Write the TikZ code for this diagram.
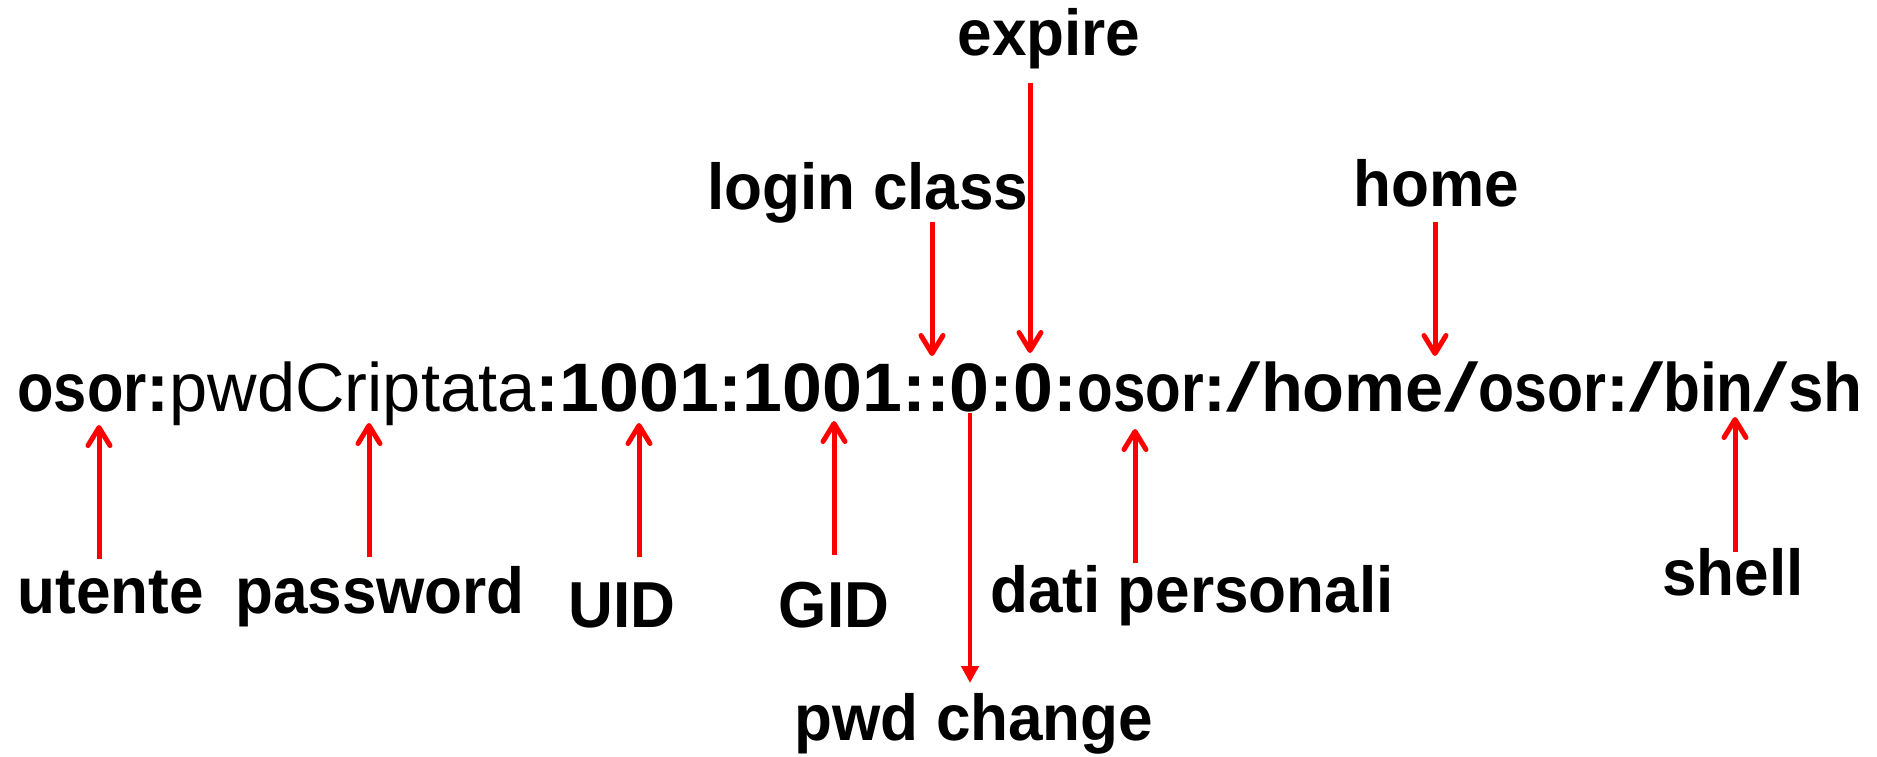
\documentclass[tikz,border=0pt]{standalone}
\usepackage{graphicx}
\usepackage{fontspec}
\setmainfont{Liberation Sans}
\newfontfamily\lblfont[FakeStretch=0.955]{Liberation Sans}
\usetikzlibrary{arrows.meta}
\definecolor{arrred}{RGB}{255,0,0}
\newcommand\nrw[2]{\scalebox{#1}[1]{\bfseries #2}}
\newcommand\slsh{\scalebox{1.8}[1]{\mdseries/}}
\tikzset{
  lbl/.style={font=\lblfont\bfseries\fontsize{32.5pt}{36pt}\selectfont, inner sep=0pt, anchor=base},
  mainline/.style={font=\fontsize{34.3pt}{38pt}\selectfont, inner sep=0pt, anchor=base west},
  barb/.style={draw=arrred, line width=2.5pt, -{Straight Barb[length=9pt,width=11pt,round]}},
  tri/.style={draw=arrred, line width=2.2pt, -{Triangle[length=8.5pt,width=8.5pt]}},
}
\begin{document}
\begin{tikzpicture}[x=0.5pt,y=-0.5pt]
\useasboundingbox (0,0) rectangle (1877,756);
% main line
\node[mainline] (entry) at (17,411) {\nrw{0.87}{osor}\textbf{:}pwdCriptata\nrw{1.045}{:1001:1001::0:0:}\nrw{0.85}{osor}\textbf{:}\slsh\nrw{1.0}{home}\slsh\nrw{0.86}{osor}\textbf{:}\slsh\nrw{0.88}{bin}\slsh\nrw{0.93}{sh}};
% labels
\node[lbl] (utente) at (111,613) {utente};
\node[lbl] (password) at (380,613) {password};
\node[lbl] (uid) at (622,627) {UID};
\node[lbl] (gid) at (834,627) {GID};
\node[lbl] (pwdchange) at (974,740) {pwd change};
\node[lbl] (dati) at (1192,612) {dati personali};
\node[lbl] (shell) at (1733,595) {shell};
\node[lbl] (login) at (868,209) {login class};
\node[lbl] (expire) at (1049,55) {expire};
\node[lbl] (home) at (1436,206) {home};
% arrow end points
\coordinate (uS) at (99,559);   \coordinate (uT) at (99,425);
\coordinate (pS) at (369,557);  \coordinate (pT) at (369,423);
\coordinate (iS) at (639,557);  \coordinate (iT) at (639,423);
\coordinate (gS) at (834,555);  \coordinate (gT) at (834,421);
\coordinate (cS) at (970,413);  \coordinate (cT) at (970,683);
\coordinate (dS) at (1135,563); \coordinate (dT) at (1135,429);
\coordinate (sS) at (1735,552); \coordinate (sT) at (1735,417);
\coordinate (lS) at (932,222);  \coordinate (lT) at (932,356);
\coordinate (eS) at (1030,83);  \coordinate (eT) at (1030,353);
\coordinate (hS) at (1435,222); \coordinate (hT) at (1435,356);
% arrows
\draw[barb] (uS) -- (uT);
\draw[barb] (pS) -- (pT);
\draw[barb] (iS) -- (iT);
\draw[barb] (gS) -- (gT);
\draw[tri]  (cS) -- (cT);
\draw[barb] (dS) -- (dT);
\draw[barb] (sS) -- (sT);
\draw[barb] (lS) -- (lT);
\draw[barb] (eS) -- (eT);
\draw[barb] (hS) -- (hT);
\end{tikzpicture}
\end{document}
